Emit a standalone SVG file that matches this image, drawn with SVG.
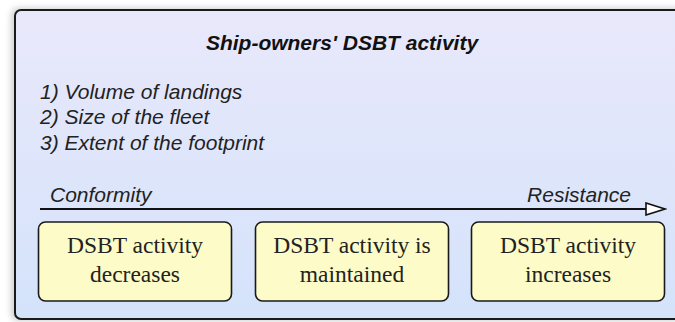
<svg xmlns="http://www.w3.org/2000/svg" width="675" height="322" viewBox="0 0 675 322">
<style>
.title{font-family:"Liberation Sans",Arial,sans-serif;font-size:21px;font-weight:bold;font-style:italic;fill:#111}
.it{font-family:"Liberation Sans",Arial,sans-serif;font-size:21px;font-style:italic;fill:#222}
.box rect{fill:#fdfcc8;stroke:#1a1a1a;stroke-width:1.6}
.box text{font-family:"Liberation Serif","Times New Roman",serif;font-size:23.5px;fill:#222;text-anchor:middle}
</style>
<defs>
<linearGradient id="bg" x1="0" y1="0" x2="0" y2="1">
<stop offset="0" stop-color="#e9e8fb"/>
<stop offset="1" stop-color="#d4e3fa"/>
</linearGradient>
<filter id="sh" x="-5%" y="-5%" width="110%" height="110%">
<feGaussianBlur stdDeviation="3"/>
</filter>
<marker id="arr" markerWidth="22" markerHeight="14" refX="20" refY="7" orient="auto" markerUnits="userSpaceOnUse">
<path d="M1,1 L20,7 L1,13 Z" fill="#fff" stroke="#111" stroke-width="1.6" stroke-linejoin="miter"/>
</marker>
</defs>
<rect width="675" height="322" fill="#ffffff"/>
<g id="frame">
<rect x="11" y="8" width="680" height="313" rx="7" fill="#888" opacity="0.4" filter="url(#sh)"/>
<rect x="15" y="10" width="680" height="309" rx="6" fill="url(#bg)" stroke="#1a1a1a" stroke-width="2"/>
</g>
<g id="header">
<text class="title" x="342" y="50" text-anchor="middle">Ship-owners' DSBT activity</text>
<text class="it" x="40" y="99">1) Volume of landings</text>
<text class="it" x="40" y="124">2) Size of the fleet</text>
<text class="it" x="40" y="150">3) Extent of the footprint</text>
</g>
<g id="connectors">
<line x1="40" y1="209" x2="665" y2="209" stroke="#111" stroke-width="2" marker-end="url(#arr)"/>
<text class="it" x="50" y="202">Conformity</text>
<text class="it" x="631" y="202" text-anchor="end">Resistance</text>
</g>
<g id="node-decreases" class="box">
<rect x="38.5" y="222" width="193" height="79" rx="7"/>
<text x="135" y="253">DSBT activity</text>
<text x="135" y="282">decreases</text>
</g>
<g id="node-maintained" class="box">
<rect x="255.5" y="222" width="193" height="79" rx="7"/>
<text x="352" y="253">DSBT activity is</text>
<text x="352" y="282">maintained</text>
</g>
<g id="node-increases" class="box">
<rect x="471.5" y="222" width="193" height="79" rx="7"/>
<text x="568" y="253">DSBT activity</text>
<text x="568" y="282">increases</text>
</g>
</svg>
